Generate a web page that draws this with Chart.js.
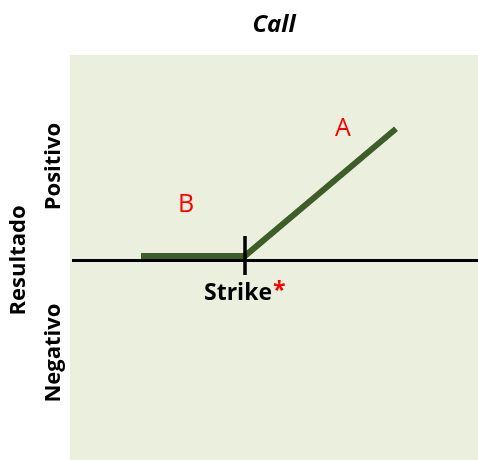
<!DOCTYPE html>
<html>
<head>
	<meta charset="utf-8">
	<title>Call</title>
	<script src="https://cdn.jsdelivr.net/npm/chart.js@4.4.1/dist/chart.umd.min.js"></script>
	<style>
		html, body { margin: 0; padding: 0; background: #fff; }
		#wrap { width: 478px; height: 460px; }
	</style>
</head>
<body>
<div id="wrap"><canvas id="graph"></canvas></div>
<script>
	// payoff of a long call: flat up to the strike, then rising
	const payoffX = [17.75, 43.75, 81.5];
	const payoffY = [0.23, 0.23, 6.6];

	// zero line and strike marker
	const axisX = [0.5, 102];
	const axisY = [0, 0];
	const strikeX = [43.75, 43.75];
	const strikeY = [1.23, -0.73];

	// text labels inside the plot (data coordinates)
	const labelText = ['A', 'B'];
	const labelX = [68.25, 29];
	const labelY = [6.59, 2.78];

	const strikeLabel = 'Strike';
	const strikeLabelX = 42;
	const strikeLabelY = -1.63;

	const yLabels = ['Positivo', 'Negativo'];
	const yLabelValues = [4.71, -4.64];
	const yTitle = 'Resultado';
	const chartTitle = 'Call';

	const FONT = "'Open Sans', 'Noto Sans', sans-serif";

	function points(xs, ys) {
		return xs.map((x, i) => ({ x: x, y: ys[i] }));
	}

	const plotBackground = {
		id: 'plotBackground',
		beforeDraw(chart) {
			const a = chart.chartArea;
			const ctx = chart.ctx;
			ctx.save();
			ctx.fillStyle = '#ebefde';
			ctx.fillRect(a.left, a.top, a.right - a.left, a.bottom - a.top);
			ctx.restore();
		}
	};

	const texts = {
		id: 'texts',
		afterDraw(chart) {
			const ctx = chart.ctx;
			const xs = chart.scales.x;
			const ys = chart.scales.y;
			const a = chart.chartArea;
			ctx.save();
			ctx.textAlign = 'center';
			ctx.textBaseline = 'middle';

			// title
			ctx.fillStyle = '#000';
			ctx.font = 'italic bold 24px ' + FONT;
			ctx.fillText(chartTitle, (a.left + a.right) / 2, 25);

			// A / B
			ctx.fillStyle = '#ff0000';
			ctx.font = '25px ' + FONT;
			labelText.forEach((t, i) => {
				ctx.fillText(t, xs.getPixelForValue(labelX[i]), ys.getPixelForValue(labelY[i]));
			});

			// Strike*
			ctx.font = 'bold 23px ' + FONT;
			const sx = xs.getPixelForValue(strikeLabelX);
			const sy = ys.getPixelForValue(strikeLabelY);
			const w = ctx.measureText(strikeLabel).width;
			ctx.fillStyle = '#000';
			ctx.fillText(strikeLabel, sx, sy);
			ctx.fillStyle = '#ff0000';
			ctx.textAlign = 'left';
			ctx.fillText('*', sx + w / 2 + 1, sy - 2);

			// vertical labels on the left
			ctx.fillStyle = '#000';
			ctx.textAlign = 'center';
			ctx.font = 'bold 22px ' + FONT;
			yLabels.forEach((t, i) => {
				ctx.save();
				ctx.translate(54, ys.getPixelForValue(yLabelValues[i]));
				ctx.rotate(-Math.PI / 2);
				ctx.fillText(t, 0, 0);
				ctx.restore();
			});
			ctx.save();
			ctx.translate(19, ys.getPixelForValue(0));
			ctx.rotate(-Math.PI / 2);
			ctx.fillText(yTitle, 0, 0);
			ctx.restore();

			ctx.restore();
		}
	};

	(function() {
		const ctx = document.getElementById('graph').getContext('2d');

		new Chart(ctx, {
			type: 'scatter',
			data: {
				datasets: [{
					label: 'strike',
					data: points(strikeX, strikeY),
					showLine: true,
					borderColor: '#000',
					borderWidth: 3.5,
					borderCapStyle: 'butt',
					pointRadius: 0,
					order: 0
				}, {
					label: 'payoff',
					data: points(payoffX, payoffY),
					showLine: true,
					borderColor: '#3e5d28',
					borderWidth: 6,
					borderCapStyle: 'butt',
					borderJoinStyle: 'miter',
					pointRadius: 0,
					order: 1
				}, {
					label: 'zero',
					data: points(axisX, axisY),
					showLine: true,
					borderColor: '#000',
					borderWidth: 3,
					borderCapStyle: 'butt',
					pointRadius: 0,
					order: 2
				}]
			},
			options: {
				responsive: true,
				maintainAspectRatio: false,
				animation: false,
				layout: { padding: { left: 70, top: 55, right: 0, bottom: 0 } },
				scales: {
					x: { type: 'linear', min: 0, max: 102, display: false },
					y: { type: 'linear', min: -10, max: 10.3, display: false }
				},
				plugins: {
					legend: { display: false },
					tooltip: { enabled: false }
				}
			},
			plugins: [plotBackground, texts]
		});
	})();
</script>
</body>
</html>
